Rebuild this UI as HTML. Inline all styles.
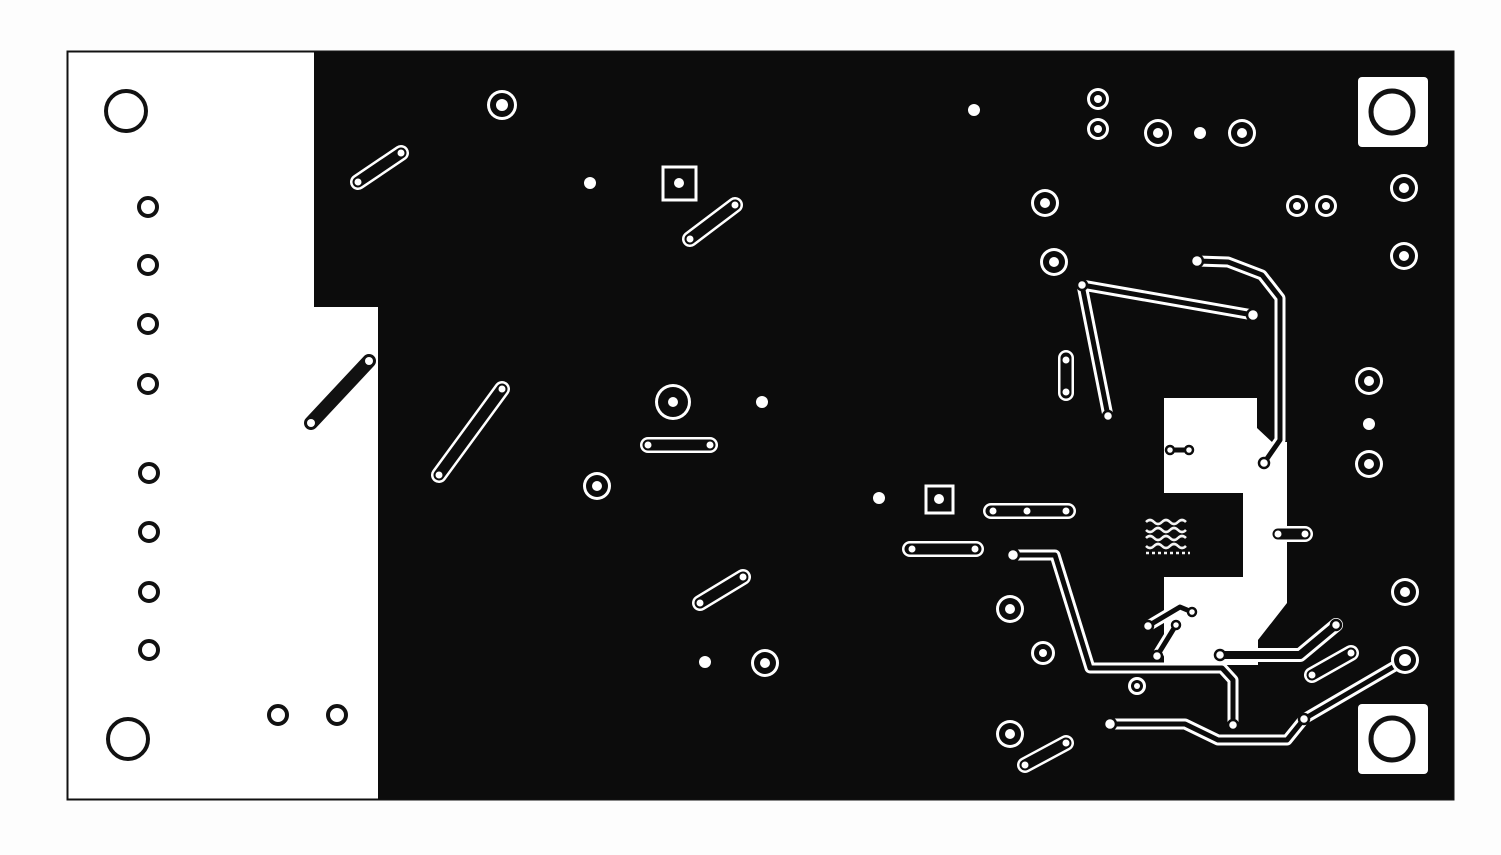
<!DOCTYPE html>
<html><head><meta charset="utf-8"><style>html,body{margin:0;padding:0;background:#fff}svg{display:block}</style></head><body>
<svg width="1501" height="855" viewBox="0 0 1501 855" xmlns="http://www.w3.org/2000/svg">
<rect width="1501" height="855" fill="#fdfdfd"/>
<rect x="67.5" y="51.5" width="1386" height="748" fill="#fff" stroke="#111" stroke-width="2"/>
<polygon points="314,52 1453,52 1453,799 378,799 378,307 314,307" fill="#0c0c0c"/>
<path d="M1164,398 L1257,398 L1257,428 L1272,442 L1287,442 L1287,603 L1258,640 L1258,665 L1164,665 L1164,577 L1243,577 L1243,493 L1164,493 Z" fill="#fff"/>
<rect x="1358" y="77" width="70" height="70" rx="4" fill="#fff"/>
<rect x="1358" y="704" width="70" height="70" rx="4" fill="#fff"/>
<circle cx="1392" cy="112" r="21" fill="none" stroke="#111" stroke-width="5"/>
<circle cx="1392" cy="739" r="21" fill="none" stroke="#111" stroke-width="5"/>
<g fill="none" stroke="#111" stroke-width="4">
<circle cx="126" cy="111" r="20"/><circle cx="128" cy="739" r="20"/>
<circle cx="148" cy="207" r="9"/><circle cx="148" cy="265" r="9"/><circle cx="148" cy="324" r="9"/><circle cx="148" cy="384" r="9"/>
<circle cx="149" cy="473" r="9"/><circle cx="149" cy="532" r="9"/><circle cx="149" cy="592" r="9"/><circle cx="149" cy="650" r="9"/>
<circle cx="278" cy="715" r="9"/><circle cx="337" cy="715" r="9"/>
</g>
<line x1="311" y1="423" x2="369" y2="361" stroke="#111" stroke-width="14" stroke-linecap="round"/>
<g fill="none" stroke-linecap="round" stroke-linejoin="round">
<g stroke="#fff" stroke-width="16">
<path d="M358,182 L401,153"/><path d="M690,239 L735,205"/><path d="M439,475 L502,389"/>
<path d="M648,445 L710,445"/><path d="M700,603 L743,577"/><path d="M1025,765 L1066,743"/>
<path d="M991,511 L1068,511"/><path d="M910,549 L976,549"/><path d="M1066,358 L1066,393"/>
<path d="M1278,534 L1305,534"/><path d="M1312,675 L1351,653"/>
</g>
<g stroke="#0c0c0c" stroke-width="11">
<path d="M358,182 L401,153"/><path d="M690,239 L735,205"/><path d="M439,475 L502,389"/>
<path d="M648,445 L710,445"/><path d="M700,603 L743,577"/><path d="M1025,765 L1066,743"/>
<path d="M991,511 L1068,511"/><path d="M910,549 L976,549"/><path d="M1066,358 L1066,393"/>
<path d="M1278,534 L1305,534"/><path d="M1312,675 L1351,653"/>
</g>
<g stroke="#fff" stroke-width="11">
<path d="M1108,416 L1082,285 L1253,315"/>
<path d="M1197,261 L1228,262 L1262,275 L1280,298 L1280,440 L1264,463"/>
<path d="M1013,555 L1055,555 L1090,668 L1222,668 L1233,680 L1233,725"/>
<path d="M1110,724 L1185,724 L1218,740 L1287,740 L1304,719 L1405,660"/>
<path d="M1148,626 L1180,607 L1192,612"/><path d="M1157,656 L1176,625"/>
<path d="M1170,450 L1189,450"/>
</g>
<g stroke="#0c0c0c" stroke-width="5">
<path d="M1108,416 L1082,285 L1253,315"/>
<path d="M1197,261 L1228,262 L1262,275 L1280,298 L1280,440 L1264,463"/>
<path d="M1013,555 L1055,555 L1090,668 L1222,668 L1233,680 L1233,725"/>
<path d="M1110,724 L1185,724 L1218,740 L1287,740 L1304,719 L1405,660"/>
<path d="M1148,626 L1180,607 L1192,612"/><path d="M1157,656 L1176,625"/>
<path d="M1170,450 L1189,450"/>
</g>
<path d="M1220,655 L1300,655 L1336,625" stroke="#fff" stroke-width="14"/>
<path d="M1220,655 L1300,655 L1336,625" stroke="#0c0c0c" stroke-width="8"/>
</g>
<g fill="none" stroke="#f4f4f4" stroke-width="2.5">
<path d="M1146,522 q4,-4 8,0 q4,4 8,0 q4,-4 8,0 q4,4 8,0 q4,-4 8,0"/>
<path d="M1146,530 q4,4 8,0 q4,-4 8,0 q4,4 8,0 q4,-4 8,0 q4,4 8,0"/>
<path d="M1146,538 q4,-4 8,0 q4,4 8,0 q4,-4 8,0 q4,4 8,0 q4,-4 8,0"/>
<path d="M1146,546 q4,4 8,0 q4,-4 8,0 q4,4 8,0 q4,-4 8,0 q4,4 8,0"/>
<path d="M1146,553 l44,0" stroke-dasharray="3 3"/>
</g>
<g>
<g fill="#fff">
<circle cx="502" cy="105" r="15"/><circle cx="1098" cy="99" r="11"/><circle cx="1098" cy="129" r="11"/>
<circle cx="1158" cy="133" r="14"/><circle cx="1242" cy="133" r="14"/><circle cx="1045" cy="203" r="14"/>
<circle cx="1054" cy="262" r="14"/><circle cx="1297" cy="206" r="11"/><circle cx="1326" cy="206" r="11"/>
<circle cx="1404" cy="188" r="14"/><circle cx="1404" cy="256" r="14"/><circle cx="1369" cy="381" r="14"/>
<circle cx="1369" cy="464" r="14"/><circle cx="673" cy="402" r="18"/><circle cx="597" cy="486" r="14"/>
<circle cx="1010" cy="609" r="14"/><circle cx="1043" cy="653" r="12"/><circle cx="1137" cy="686" r="9"/>
<circle cx="1010" cy="734" r="14"/><circle cx="765" cy="663" r="14"/><circle cx="1405" cy="592" r="14"/>
<circle cx="1405" cy="660" r="14"/>
</g>
<g fill="#0c0c0c">
<circle cx="502" cy="105" r="12"/><circle cx="1098" cy="99" r="8"/><circle cx="1098" cy="129" r="8"/>
<circle cx="1158" cy="133" r="11"/><circle cx="1242" cy="133" r="11"/><circle cx="1045" cy="203" r="11"/>
<circle cx="1054" cy="262" r="11"/><circle cx="1297" cy="206" r="8"/><circle cx="1326" cy="206" r="8"/>
<circle cx="1404" cy="188" r="11"/><circle cx="1404" cy="256" r="11"/><circle cx="1369" cy="381" r="11"/>
<circle cx="1369" cy="464" r="11"/><circle cx="673" cy="402" r="15"/><circle cx="597" cy="486" r="11"/>
<circle cx="1010" cy="609" r="11"/><circle cx="1043" cy="653" r="9"/><circle cx="1137" cy="686" r="6"/>
<circle cx="1010" cy="734" r="11"/><circle cx="765" cy="663" r="11"/><circle cx="1405" cy="592" r="11"/>
<circle cx="1405" cy="660" r="11"/>
</g>
<rect x="663" y="167" width="33" height="33" fill="none" stroke="#fff" stroke-width="3"/>
<rect x="926" y="486" width="27" height="27" fill="none" stroke="#fff" stroke-width="3"/>
<g fill="#fff">
<circle cx="502" cy="105" r="6"/><circle cx="1098" cy="99" r="4"/><circle cx="1098" cy="129" r="4"/>
<circle cx="1158" cy="133" r="5"/><circle cx="1242" cy="133" r="5"/><circle cx="1045" cy="203" r="5"/>
<circle cx="1054" cy="262" r="5"/><circle cx="1297" cy="206" r="4"/><circle cx="1326" cy="206" r="4"/>
<circle cx="1404" cy="188" r="5"/><circle cx="1404" cy="256" r="5"/><circle cx="1369" cy="381" r="5"/>
<circle cx="1369" cy="464" r="5"/><circle cx="673" cy="402" r="5"/><circle cx="597" cy="486" r="5"/>
<circle cx="1010" cy="609" r="5"/><circle cx="1043" cy="653" r="4"/><circle cx="1137" cy="686" r="3"/>
<circle cx="1010" cy="734" r="5"/><circle cx="765" cy="663" r="5"/><circle cx="1405" cy="592" r="5"/>
<circle cx="1405" cy="660" r="6"/>
<circle cx="1200" cy="133" r="6"/><circle cx="974" cy="110" r="6"/><circle cx="590" cy="183" r="6"/>
<circle cx="679" cy="183" r="5"/><circle cx="939" cy="499" r="5"/><circle cx="1369" cy="424" r="6"/>
<circle cx="762" cy="402" r="6"/><circle cx="879" cy="498" r="6"/><circle cx="705" cy="662" r="6"/>
<circle cx="358" cy="182" r="3.5"/><circle cx="401" cy="153" r="3.5"/><circle cx="690" cy="239" r="3.5"/><circle cx="735" cy="205" r="3.5"/>
<circle cx="439" cy="475" r="3.5"/><circle cx="502" cy="389" r="3.5"/><circle cx="648" cy="445" r="3.5"/><circle cx="710" cy="445" r="3.5"/>
<circle cx="700" cy="603" r="3.5"/><circle cx="743" cy="577" r="3.5"/><circle cx="1025" cy="765" r="3.5"/><circle cx="1066" cy="743" r="3.5"/>
<circle cx="993" cy="511" r="3.5"/><circle cx="1027" cy="511" r="3.5"/><circle cx="1066" cy="511" r="3.5"/>
<circle cx="912" cy="549" r="3.5"/><circle cx="975" cy="549" r="3.5"/><circle cx="1066" cy="360" r="3.5"/><circle cx="1066" cy="392" r="3.5"/>
<circle cx="1278" cy="534" r="3.5"/><circle cx="1305" cy="534" r="3.5"/><circle cx="1312" cy="675" r="3.5"/><circle cx="1351" cy="653" r="3.5"/>
<circle cx="311" cy="423" r="4"/><circle cx="369" cy="361" r="4"/>
</g>
<g fill="#fff" stroke="#0c0c0c" stroke-width="2.5">
<circle cx="1108" cy="416" r="5"/><circle cx="1082" cy="285" r="5"/><circle cx="1253" cy="315" r="6"/>
<circle cx="1197" cy="261" r="6"/><circle cx="1264" cy="463" r="5"/><circle cx="1013" cy="555" r="6"/>
<circle cx="1233" cy="725" r="5"/><circle cx="1110" cy="724" r="6"/><circle cx="1304" cy="719" r="5"/>
<circle cx="1148" cy="626" r="5"/><circle cx="1192" cy="612" r="4"/><circle cx="1157" cy="656" r="5"/><circle cx="1176" cy="625" r="4"/>
<circle cx="1170" cy="450" r="4"/><circle cx="1189" cy="450" r="4"/><circle cx="1220" cy="655" r="5"/><circle cx="1336" cy="625" r="5"/>
</g>
</g>
</svg>
</body></html>
